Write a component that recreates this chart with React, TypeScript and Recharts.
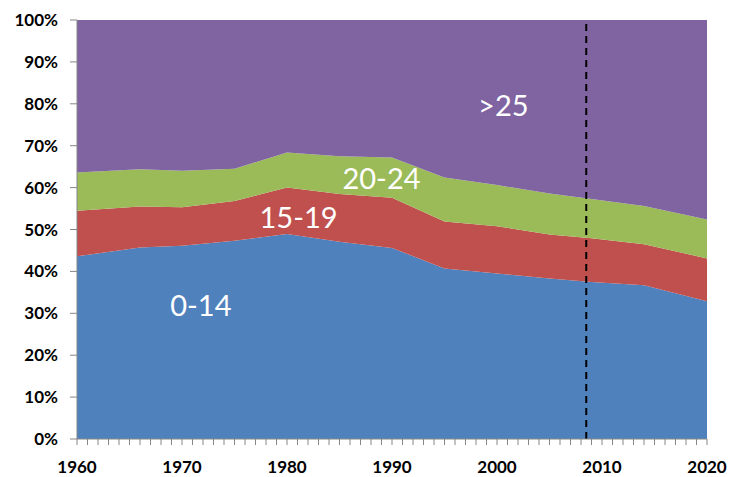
import { AreaChart, Area, XAxis, YAxis, ReferenceLine, ReferenceDot } from "recharts";

// share of population by age group, %
const years = [1960, 1966, 1970, 1975, 1980, 1985, 1990, 1995, 2000, 2005, 2009, 2014, 2020];
const age0to14 = [43.6, 45.7, 46.1, 47.3, 48.9, 47.1, 45.6, 40.7, 39.5, 38.3, 37.5, 36.7, 32.9];
const age15to19 = [10.9, 9.8, 9.2, 9.5, 11.1, 11.4, 12.0, 11.2, 11.3, 10.5, 10.4, 9.8, 10.2];
const age20to24 = [9.1, 8.9, 8.7, 7.7, 8.4, 9.0, 9.6, 10.5, 9.8, 9.8, 9.4, 9.1, 9.3];
const age25plus = [36.4, 35.6, 36.0, 35.5, 31.6, 32.5, 32.8, 37.6, 39.4, 41.4, 42.7, 44.4, 47.6];

const yearLabels = [1960, 1970, 1980, 1990, 2000, 2010, 2020];
const percentTicks = [0, 10, 20, 30, 40, 50, 60, 70, 80, 90, 100];
const markerYear = 2008.5;

const groupLabels = [
  { text: "0-14", year: 1971.8, pct: 31.7 },
  { text: "15-19", year: 1981.1, pct: 52.9 },
  { text: "20-24", year: 1989.0, pct: 62.2 },
  { text: ">25", year: 2000.6, pct: 79.5 },
];

const data = years.map((year, i) => ({
  year,
  a: age0to14[i],
  b: age15to19[i],
  c: age20to24[i],
  d: age25plus[i],
}));

// minor tick every year, labels only on the decades
const yearTicks = Array.from({ length: 61 }, (_, i) => 1960 + i);

const tickFont = "Lato, 'Open Sans', sans-serif";

function YearTick(props: any) {
  const { x, y, payload } = props;
  if (!yearLabels.includes(payload.value)) return <g />;
  return (
    <text
      x={x}
      y={y + 28}
      textAnchor="middle"
      fontFamily={tickFont}
      fontWeight="bold"
      fontSize={17}
      fill="#000"
    >
      {payload.value}
    </text>
  );
}

export default function App() {
  return (
    <div
      style={{
        position: "absolute",
        left: 0,
        top: 0,
        width: 731,
        height: 477,
        background: "#fff",
      }}
    >
      <AreaChart
        width={731}
        height={477}
        data={data}
        margin={{ top: 20, right: 24, bottom: 0, left: 0 }}
      >
        <XAxis
          dataKey="year"
          type="number"
          domain={[1960, 2020]}
          ticks={yearTicks}
          interval={0}
          height={38}
          tickSize={6}
          tickMargin={0}
          tick={<YearTick />}
          stroke="#868686"
        />
        <YAxis
          type="number"
          domain={[0, 100]}
          ticks={percentTicks}
          interval={0}
          width={77}
          tickSize={7}
          tickMargin={12}
          tickFormatter={(v: number) => v + "%"}
          tick={{
            fill: "#000",
            fontFamily: tickFont,
            fontWeight: "bold",
            fontSize: 17,
          }}
          stroke="#868686"
        />
        <Area
          type="linear"
          dataKey="a"
          stackId="1"
          stroke="none"
          fill="#4F81BD"
          fillOpacity={1}
          isAnimationActive={false}
        />
        <Area
          type="linear"
          dataKey="b"
          stackId="1"
          stroke="none"
          fill="#C0504D"
          fillOpacity={1}
          isAnimationActive={false}
        />
        <Area
          type="linear"
          dataKey="c"
          stackId="1"
          stroke="none"
          fill="#9BBB59"
          fillOpacity={1}
          isAnimationActive={false}
        />
        <Area
          type="linear"
          dataKey="d"
          stackId="1"
          stroke="none"
          fill="#8064A2"
          fillOpacity={1}
          isAnimationActive={false}
        />
        <ReferenceLine
          x={markerYear}
          stroke="#000"
          strokeWidth={2}
          strokeDasharray="7 5"
        />
        {groupLabels.map((g) => (
          <ReferenceDot
            key={g.text}
            x={g.year}
            y={g.pct}
            r={0}
            fill="none"
            stroke="none"
            label={{
              value: g.text,
              position: "center",
              fill: "#fff",
              fontSize: 29,
              fontFamily: "Lato, 'Open Sans', sans-serif",
            }}
          />
        ))}
      </AreaChart>
    </div>
  );
}
